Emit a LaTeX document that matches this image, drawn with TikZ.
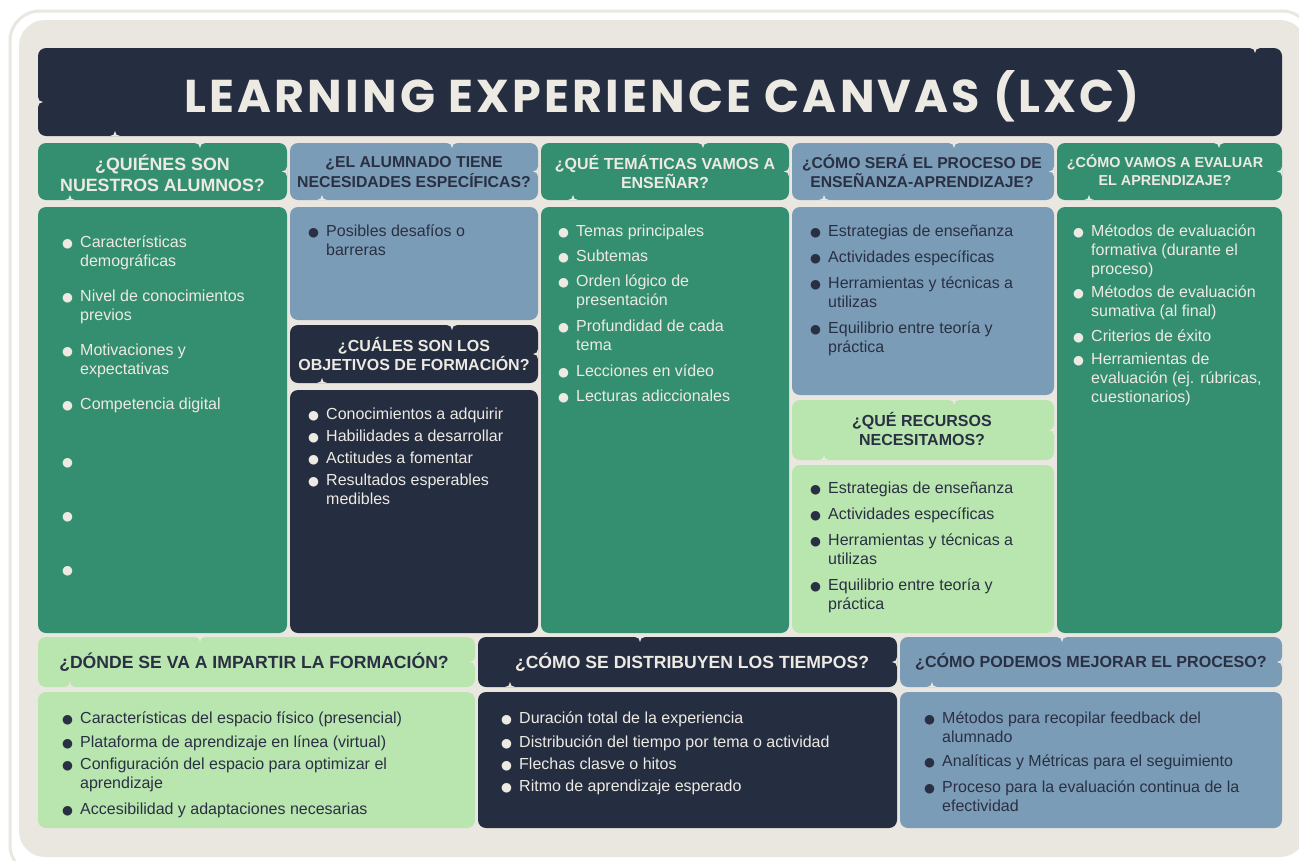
\documentclass[tikz,border=0pt]{standalone}
\usepackage{fontspec}
\setmainfont{Liberation Sans}
\newfontfamily\titlefont[LetterSpace=7]{Poppins}
\newfontfamily\symfont{DejaVu Sans}

\definecolor{canvas}{HTML}{EAE7E0}
\definecolor{navy}{HTML}{252D40}
\definecolor{sea}{HTML}{348F71}
\definecolor{steel}{HTML}{7B9CB6}
\definecolor{mint}{HTML}{B9E5AE}
\definecolor{inkdark}{HTML}{2A3044}
\definecolor{inklight}{HTML}{EDEAE3}

% bullet item, lines broken by hand
\newcommand{\itm}[1]{\makebox[18pt][l]{\raisebox{0.3pt}{\symfont\fontsize{12.5}{12.5}\selectfont●}}\begin{tabular}[t]{@{}l@{}}#1\end{tabular}}

% little notches cut into the header boxes
\newcommand{\notchT}[2]{\fill[canvas] ({#1-5},#2) .. controls ({#1-2},#2) and (#1,{#2+2}) .. (#1,{#2+5}) .. controls (#1,{#2+2}) and ({#1+2},#2) .. ({#1+5},#2) -- cycle;}
\newcommand{\notchB}[2]{\fill[canvas] ({#1-5},#2) .. controls ({#1-2},#2) and (#1,{#2-2}) .. (#1,{#2-5}) .. controls (#1,{#2-2}) and ({#1+2},#2) .. ({#1+5},#2) -- cycle;}
\newcommand{\notchR}[2]{\fill[canvas] (#1,{#2-5}) .. controls (#1,{#2-2}) and ({#1-2},#2) .. ({#1-5},#2) .. controls ({#1-2},#2) and (#1,{#2+2}) .. (#1,{#2+5}) -- cycle;}
\newcommand{\notchL}[2]{\fill[canvas] (#1,{#2-5}) .. controls (#1,{#2-2}) and ({#1+2},#2) .. ({#1+5},#2) .. controls ({#1+2},#2) and (#1,{#2+2}) .. (#1,{#2+5}) -- cycle;}
\newcommand{\hdrbox}[5]{%
  \fill[#5, rounded corners=8pt] (#1,#2) rectangle (#3,#4);
  \pgfmathsetmacro\hTop{#1+162}
  \pgfmathsetmacro\hBot{#1+32}
  \pgfmathsetmacro\hMid{(#2+#4)/2}
  \notchT{\hTop}{#2}
  \notchB{\hBot}{#4}
  \notchR{#3}{\hMid}}

\tikzset{
  hdr/.style={font=\bfseries\fontsize{16}{19.5}\selectfont, align=center, inner sep=0pt},
  lst/.style={font=\fontsize{16}{19}\selectfont, align=left, inner sep=0pt, anchor=north west},
  panel/.style={rounded corners=8pt},
}

\begin{document}
\begin{tikzpicture}[x=1pt,y=-1pt]
 \clip (0,0) rectangle (1299,860);
 \fill[white] (0,0) rectangle (1299,860);
 \draw[canvas, line width=3pt, rounded corners=30pt] (10,11) rectangle (1312,875);
 \fill[canvas, rounded corners=26pt] (19,20) rectangle (1306,857);

 % title
 \fill[navy, panel] (38,48) rectangle (1282,136);
 \notchL{38}{102}
 \notchB{115}{136}
 \notchT{1255}{48}
 \node[text=inklight, font=\titlefont\bfseries\fontsize{46}{50}\selectfont] (title) at (662,96) {LEARNING EXPERIENCE CANVAS (LXC)};

 % headers, top row
 \hdrbox{38}{143}{287}{200}{sea}
 \node[hdr, text=inklight, font=\bfseries\fontsize{17.8}{21}\selectfont] (hAlumnos) at (162.5,173) {¿QUIÉNES SON\\NUESTROS ALUMNOS?};
 \hdrbox{290}{143}{538}{200}{steel}
 \node[hdr, text=inkdark, font=\bfseries\fontsize{15.8}{19.5}\selectfont] (hNecesidades) at (414,172) {¿EL ALUMNADO TIENE\\NECESIDADES ESPECÍFICAS?};
 \hdrbox{541}{143}{789}{200}{sea}
 \node[hdr, text=inklight] (hTematicas) at (665,172) {¿QUÉ TEMÁTICAS VAMOS A\\ENSEÑAR?};
 \hdrbox{792}{143}{1054}{200}{steel}
 \node[hdr, text=inkdark, font=\bfseries\fontsize{15.7}{19.5}\selectfont] (hProceso) at (922,171) {¿CÓMO SERÁ EL PROCESO DE\\ENSEÑANZA-APRENDIZAJE?};
 \hdrbox{1057}{143}{1282}{200}{sea}
 \node[hdr, text=inklight, font=\bfseries\fontsize{14.4}{18}\selectfont] (hEvaluar) at (1165,170) {¿CÓMO VAMOS A EVALUAR\\EL APRENDIZAJE?};
 \hdrbox{290}{325}{538}{383}{navy}
 \node[hdr, text=inklight] (hObjetivos) at (414,354) {¿CUÁLES SON LOS\\OBJETIVOS DE FORMACIÓN?};
 \hdrbox{792}{400}{1054}{460}{mint}
 \node[hdr, text=inkdark] (hRecursos) at (922,429) {¿QUÉ RECURSOS\\NECESITAMOS?};

 % bodies
 \fill[sea, panel] (38,207) rectangle (287,633);
 \fill[steel, panel] (290,207) rectangle (538,320);
 \fill[navy, panel] (290,390) rectangle (538,633);
 \fill[sea, panel] (541,207) rectangle (789,633);
 \fill[steel, panel] (792,207) rectangle (1054,395);
 \fill[mint, panel] (792,465) rectangle (1054,633);
 \fill[sea, panel] (1057,207) rectangle (1282,633);

 \node[lst, text=inklight] (lAlumnos) at (62,234) {\itm{Características\\demográficas}\\[15pt]
   \itm{Nivel de conocimientos\\previos}\\[15pt]
   \itm{Motivaciones y\\expectativas}\\[15pt]
   \itm{Competencia digital\\\mbox{}}\\[18pt]
   \itm{\mbox{}\\\mbox{}}\\[15pt]
   \itm{\mbox{}\\\mbox{}}\\[15pt]
   \itm{\mbox{}}};
 \node[lst, text=inkdark] (lNecesidades) at (308,223) {\itm{Posibles desafíos o\\barreras}};
 \node[lst, text=inklight] (lObjetivos) at (308,406) {\itm{Conocimientos a adquirir}\\[3pt]
   \itm{Habilidades a desarrollar}\\[3pt]
   \itm{Actitudes a fomentar}\\[3pt]
   \itm{Resultados esperables\\medibles}};
 \node[lst, text=inklight] (lTematicas) at (558,223) {\itm{Temas principales}\\[6pt]
   \itm{Subtemas}\\[6pt]
   \itm{Orden lógico de\\presentación}\\[6pt]
   \itm{Profundidad de cada\\tema}\\[6pt]
   \itm{Lecciones en vídeo}\\[6pt]
   \itm{Lecturas adiccionales}};
 \node[lst, text=inkdark] (lProceso) at (810,223) {\itm{Estrategias de enseñanza}\\[7pt]
   \itm{Actividades específicas}\\[7pt]
   \itm{Herramientas y técnicas a\\utilizas}\\[6pt]
   \itm{Equilibrio entre teoría y\\práctica}};
 \node[lst, text=inkdark] (lRecursos) at (810,480) {\itm{Estrategias de enseñanza}\\[7pt]
   \itm{Actividades específicas}\\[7pt]
   \itm{Herramientas y técnicas a\\utilizas}\\[6pt]
   \itm{Equilibrio entre teoría y\\práctica}};
 \node[lst, text=inklight] (lEvaluar) at (1073,223) {\itm{Métodos de evaluación\\formativa (durante el\\proceso)}\\[3pt]
   \itm{Métodos de evaluación\\sumativa (al final)}\\[5pt]
   \itm{Criterios de éxito}\\[4pt]
   \itm{Herramientas de\\evaluación (ej. rúbricas,\\cuestionarios)}};

 % bottom row
 \hdrbox{38}{637}{475}{687}{mint}
 \node[hdr, text=inkdark, font=\bfseries\fontsize{17.6}{19}\selectfont] (hDonde) at (254,662) {¿DÓNDE SE VA A IMPARTIR LA FORMACIÓN?};
 \hdrbox{478}{637}{897}{687}{navy}
 \node[hdr, text=inklight, font=\bfseries\fontsize{17.6}{19}\selectfont] (hTiempos) at (692,662) {¿CÓMO SE DISTRIBUYEN LOS TIEMPOS?};
 \hdrbox{900}{637}{1282}{687}{steel}
 \node[hdr, text=inkdark, font=\bfseries\fontsize{16.1}{19}\selectfont] (hMejorar) at (1091,662) {¿CÓMO PODEMOS MEJORAR EL PROCESO?};

 \fill[mint, panel] (38,692) rectangle (475,828);
 \fill[navy, panel] (478,692) rectangle (897,828);
 \fill[steel, panel] (900,692) rectangle (1282,828);

 \node[lst, text=inkdark] (lDonde) at (62,710) {\itm{Características del espacio físico (presencial)}\\[5pt]
   \itm{Plataforma de aprendizaje en línea (virtual)}\\[3pt]
   \itm{Configuración del espacio para optimizar el\\aprendizaje}\\[6pt]
   \itm{Accesibilidad y adaptaciones necesarias}};
 \node[lst, text=inklight] (lTiempos) at (501,710) {\itm{Duración total de la experiencia}\\[5pt]
   \itm{Distribución del tiempo por tema o actividad}\\[3pt]
   \itm{Flechas clasve o hitos}\\[3pt]
   \itm{Ritmo de aprendizaje esperado}};
 \node[lst, text=inkdark] (lMejorar) at (924,710) {\itm{Métodos para recopilar feedback del\\alumnado}\\[4pt]
   \itm{Analíticas y Métricas para el seguimiento}\\[7pt]
   \itm{Proceso para la evaluación continua de la\\efectividad}};
\end{tikzpicture}
\end{document}
